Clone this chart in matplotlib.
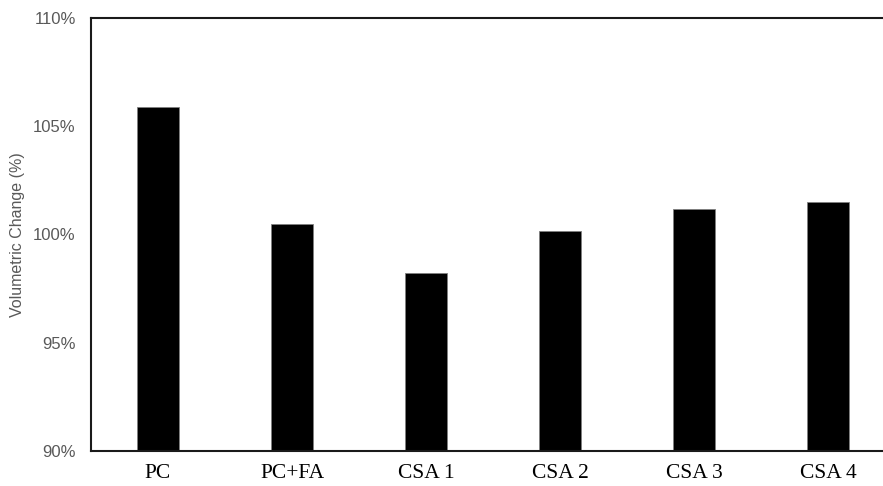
import matplotlib.pyplot as plt
from matplotlib.ticker import FuncFormatter

# sample names and measured volume change (%)
samples = ["PC", "PC+FA", "CSA 1", "CSA 2", "CSA 3", "CSA 4"]
volume_change = [105.9, 100.5, 98.2, 100.15, 101.2, 101.5]
y_ticks = [90, 95, 100, 105, 110]

fig = plt.figure(figsize=(8.83, 4.86), dpi=100)
# axes runs off the right edge like the source image
ax = fig.add_axes([0.1031, 0.072, 0.9105, 0.891])

x = range(len(samples))
ax.bar(x, volume_change, width=0.32, color="black", edgecolor="#808080", linewidth=0.6)

ax.set_xlim(-0.5, len(samples) - 0.5)
ax.set_ylim(90, 110)
ax.set_yticks(y_ticks)
ax.yaxis.set_major_formatter(FuncFormatter(lambda v, p: f"{v:.0f}%"))

ax.set_xticks(list(x))
ax.set_xticklabels(samples, family="Liberation Serif", fontsize=15.5, color="black")
ax.tick_params(axis="x", length=0, pad=9)
ax.tick_params(axis="y", length=0, pad=11, labelsize=12, labelcolor="#595959")
for lbl in ax.get_yticklabels():
    lbl.set_family("Liberation Sans")

ax.set_ylabel("Volumetric Change (%)", family="Liberation Sans", fontsize=11.5,
              color="#595959")
ax.yaxis.set_label_coords(-0.082, 0.5)

for side in ["left", "top", "bottom"]:
    ax.spines[side].set_linewidth(1.5)
    ax.spines[side].set_color("#1a1a1a")
ax.spines["right"].set_visible(False)

fig.savefig("out.png", dpi=100)
